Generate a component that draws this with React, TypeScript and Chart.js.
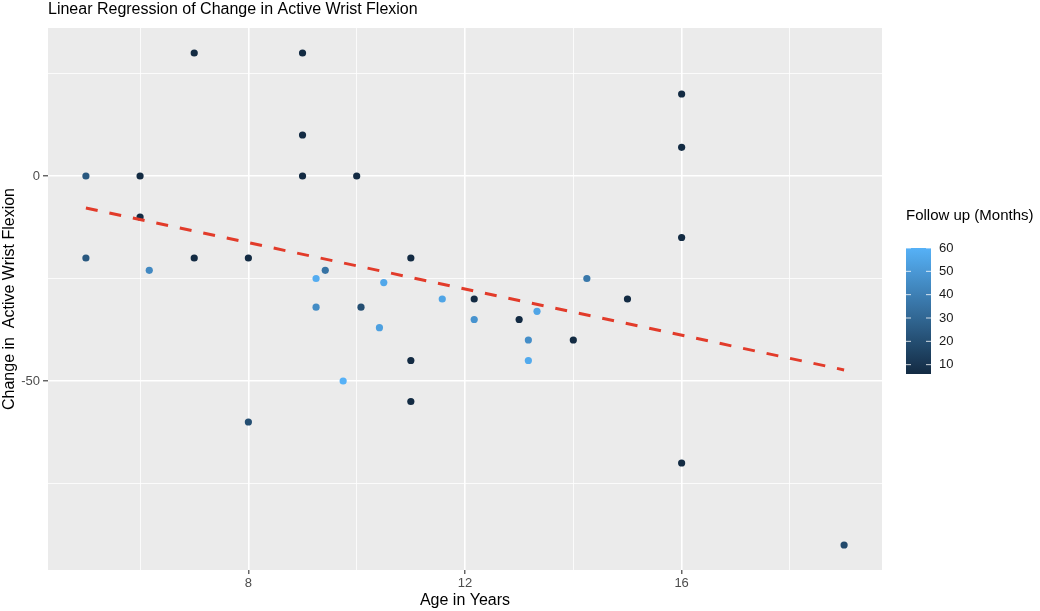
import { useEffect, useRef } from 'react';
import { Chart, registerables } from 'chart.js';

Chart.register(...registerables);

// points: age, change in flexion, follow-up months
const ages = [5, 5, 6, 6, 6.17, 7, 7, 8, 8, 9, 9, 9, 9.25, 9.25, 9.42, 9.75, 10, 10.08, 10.42, 10.5, 11, 11, 11, 11.58, 12.17, 12.17, 13, 13.17, 13.17, 13.33, 14, 14.25, 15, 16, 16, 16, 16, 19];
const changes = [0, -20, 0, -10, -23, 30, -20, -20, -60, 30, 10, 0, -25, -32, -23, -50, 0, -32, -37, -26, -20, -45, -55, -30, -30, -35, -35, -40, -45, -33, -40, -25, -30, 20, 7, -15, -70, -90];
const followUp = [24, 24, 6, 6, 44, 6, 6, 6, 20, 6, 6, 6, 58, 45, 35, 60, 6, 20, 53, 56, 6, 6, 6, 55, 6, 48, 6, 46, 57, 55, 6, 37, 6, 6, 6, 6, 6, 18];

// regression line ends
const fitAges = [5, 19];
const fitChanges = [-7.8, -47.3];

const xBreaks = [6, 8, 10, 12, 14, 16, 18];
const xMajor = [8, 12, 16];
const yBreaks = [-75, -50, -25, 0, 25];
const yMajor = [-50, 0];
const legendBreaks = [10, 20, 30, 40, 50, 60];

const FONT = '"Liberation Sans", Arial, sans-serif';
const LOW = [19, 43, 67];
const HIGH = [86, 177, 247];
const fMin = Math.min(...followUp);
const fMax = Math.max(...followUp);

const colourFor = (v: number) => {
  const t = (v - fMin) / (fMax - fMin);
  const c = LOW.map((l, i) => Math.round(l + (HIGH[i] - l) * t));
  return `rgb(${c[0]}, ${c[1]}, ${c[2]})`;
};

const panelBackground = {
  id: 'panelBackground',
  beforeDraw(chart: any) {
    const { ctx, chartArea: a } = chart;
    ctx.save();
    ctx.fillStyle = '#EBEBEB';
    ctx.fillRect(a.left, a.top, a.right - a.left, a.bottom - a.top);
    ctx.restore();
  },
};

// the colour bar legend on the right
const colourBar = {
  id: 'colourBar',
  afterDraw(chart: any) {
    const ctx = chart.ctx;
    const left = 906;
    const width = 25;
    const top = 248;
    const bottom = 374;
    const yOf = (v: number) => bottom - ((v - fMin) / (fMax - fMin)) * (bottom - top);
    ctx.save();
    ctx.fillStyle = '#000';
    ctx.font = `15px ${FONT}`;
    ctx.textBaseline = 'middle';
    ctx.textAlign = 'left';
    ctx.fillText('Follow up (Months)', left, 216);

    const g = ctx.createLinearGradient(0, bottom, 0, top);
    for (let i = 0; i <= 10; i++) {
      g.addColorStop(i / 10, colourFor(fMin + ((fMax - fMin) * i) / 10));
    }
    ctx.fillStyle = g;
    ctx.fillRect(left, top, width, bottom - top);

    ctx.strokeStyle = 'rgba(255,255,255,0.8)';
    ctx.lineWidth = 1;
    ctx.font = `13px ${FONT}`;
    ctx.fillStyle = '#1a1a1a';
    legendBreaks.forEach((v) => {
      const y = yOf(v);
      ctx.beginPath();
      ctx.moveTo(left, y);
      ctx.lineTo(left + 5, y);
      ctx.moveTo(left + width - 5, y);
      ctx.lineTo(left + width, y);
      ctx.stroke();
      ctx.fillText(String(v), left + width + 8, y);
    });
    ctx.restore();
  },
};

const App = () => {
  const canvasRef = useRef<HTMLCanvasElement>(null);
  const chartRef = useRef<Chart | null>(null);

  useEffect(() => {
    if (!canvasRef.current) return;
    if (chartRef.current) chartRef.current.destroy();

    const tickFont = { family: FONT, size: 13 };
    const titleFont = { family: FONT, size: 16, weight: 'normal' as const };

    chartRef.current = new Chart(canvasRef.current, {
      type: 'scatter',
      data: {
        datasets: [
          {
            type: 'line',
            data: fitAges.map((x, i) => ({ x, y: fitChanges[i] })),
            borderColor: '#E23B2A',
            borderWidth: 3,
            borderDash: [12, 12],
            pointRadius: 0,
            fill: false,
          } as any,
          {
            data: ages.map((x, i) => ({ x, y: changes[i] })),
            pointBackgroundColor: followUp.map(colourFor),
            pointBorderWidth: 0,
            pointRadius: 3.6,
          },
        ],
      },
      options: {
        animation: false,
        responsive: true,
        maintainAspectRatio: false,
        layout: { padding: { left: 0, right: 158, top: 0, bottom: 0 } },
        plugins: {
          legend: { display: false },
          tooltip: { enabled: false },
          title: {
            display: true,
            text: 'Linear Regression of Change in Active Wrist Flexion',
            align: 'start',
            fullSize: false,
            color: '#000',
            font: titleFont,
            padding: { top: 0, bottom: 8.8 },
          },
        },
        scales: {
          x: {
            type: 'linear',
            min: 4.3,
            max: 19.7,
            afterBuildTicks: (s: any) => {
              s.ticks = xBreaks.map((value) => ({ value }));
            },
            afterFit: (s: any) => {
              s.height = 41;
            },
            ticks: {
              callback: (v: any) => (xMajor.includes(v) ? String(v) : ''),
              color: '#4D4D4D',
              font: tickFont,
              padding: 2,
              maxRotation: 0,
              autoSkip: false,
            },
            grid: {
              color: '#FFFFFF',
              lineWidth: (c: any) => (xMajor.includes(c.tick?.value) ? 1.6 : 0.8),
              tickColor: (c: any) => (xMajor.includes(c.tick?.value) ? '#333333' : 'rgba(0,0,0,0)'),
              tickLength: 4,
              tickWidth: 1.1,
            },
            border: { display: false },
            title: {
              display: true,
              text: 'Age in Years',
              color: '#000',
              font: titleFont,
              padding: { top: 0, bottom: 1 },
            },
          },
          y: {
            type: 'linear',
            min: -96.1,
            max: 36.1,
            afterBuildTicks: (s: any) => {
              s.ticks = yBreaks.map((value) => ({ value }));
            },
            afterFit: (s: any) => {
              s.width = 48;
            },
            ticks: {
              callback: (v: any) => (yMajor.includes(v) ? String(v) : ''),
              color: '#4D4D4D',
              font: tickFont,
              padding: 3,
              autoSkip: false,
            },
            grid: {
              color: '#FFFFFF',
              lineWidth: (c: any) => (yMajor.includes(c.tick?.value) ? 1.6 : 0.8),
              tickColor: (c: any) => (yMajor.includes(c.tick?.value) ? '#333333' : 'rgba(0,0,0,0)'),
              tickLength: 5,
              tickWidth: 1.1,
            },
            border: { display: false },
            title: {
              display: true,
              text: 'Change in  Active Wrist Flexion',
              color: '#000',
              font: titleFont,
              padding: { top: 0, bottom: 0 },
            },
          },
        },
      },
      plugins: [panelBackground, colourBar],
    });

    return () => {
      if (chartRef.current) {
        chartRef.current.destroy();
        chartRef.current = null;
      }
    };
  }, []);

  return (
    <div style={{ position: 'fixed', left: 0, top: 0, width: 1040, height: 611, background: '#fff' }}>
      <canvas ref={canvasRef}></canvas>
    </div>
  );
};

export default App;
